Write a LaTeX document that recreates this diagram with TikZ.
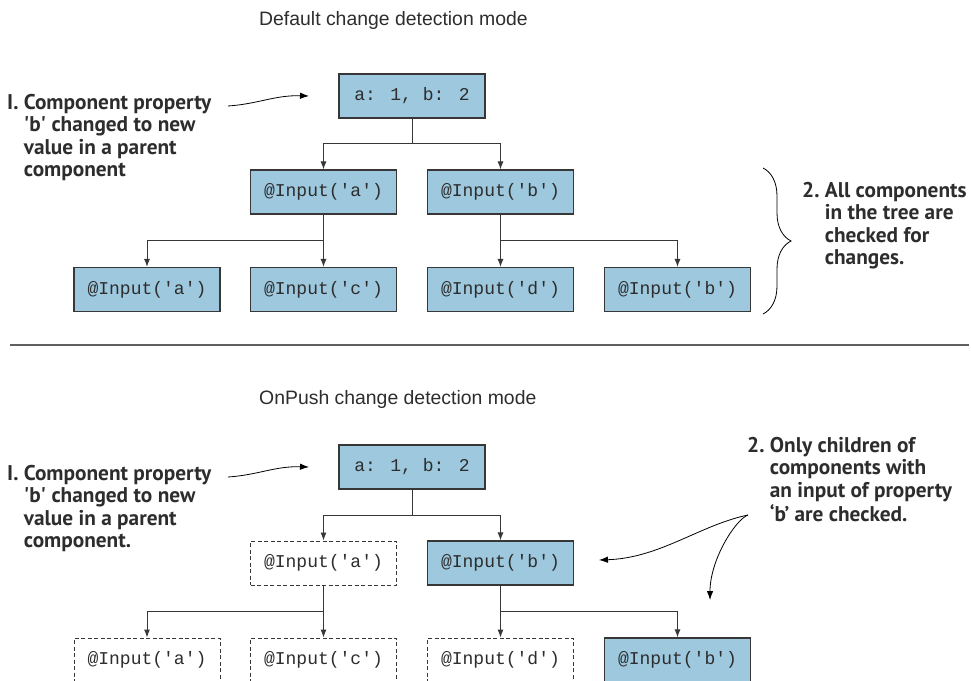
\documentclass[tikz,border=0pt]{standalone}
\usepackage{fontspec}
\setmainfont{Liberation Sans}
\newfontfamily\annfont{PT Sans}
\newfontfamily\codefont{Liberation Mono}
\usetikzlibrary{arrows.meta, decorations.pathreplacing}
\definecolor{boxblue}{RGB}{157,200,222}
\definecolor{edgegray}{RGB}{55,55,55}
\definecolor{txtgray}{RGB}{45,45,45}
\newcommand{\q}{\textquotesingle}
\begin{document}
\begin{tikzpicture}[x=1pt,y=-1pt,
  comp/.style={draw=edgegray, line width=1.1pt, fill=boxblue, minimum width=146pt, minimum height=44pt, inner sep=0pt, text=txtgray, font=\codefont\fontsize{18}{20}\selectfont},
  skipbox/.style={comp, fill=white, line width=0.9pt, dash pattern=on 4pt off 2.5pt},
  conn/.style={draw=edgegray, line width=1pt, -{Latex[length=8pt,width=6pt]}},
  trunk/.style={draw=edgegray, line width=1pt},
  callout/.style={draw=black, line width=0.8pt, -{Latex[length=9pt,width=6.5pt]}},
  ann/.style={font=\annfont\bfseries\fontsize{21.3}{22.6}\selectfont, text=txtgray, anchor=base west, inner sep=0pt},
  ttl/.style={font=\fontsize{19.4}{22}\selectfont, text=txtgray, anchor=west, inner sep=0pt}
]
\useasboundingbox (0,0) rectangle (971,680);

% ---------- top: default ----------
\node[ttl] (t1) at (259,20) {Default change detection mode};

\node[comp] (r1) at (412,96) {a: 1, b: 2};
\node[comp] (a1) at (323.5,192) {@Input(\q a\q)};
\node[comp] (b1) at (500.5,192) {@Input(\q b\q)};
\node[comp] (aa1) at (147,289.5) {@Input(\q a\q)};
\node[comp] (ac1) at (323.5,289.5) {@Input(\q c\q)};
\node[comp] (bd1) at (500.5,289.5) {@Input(\q d\q)};
\node[comp] (bb1) at (677.5,289.5) {@Input(\q b\q)};

\coordinate (j1) at (412,143);
\coordinate (j2) at (323.5,240);
\coordinate (j3) at (500.5,240);
\draw[trunk] (r1.south) -- (j1);
\draw[conn] (j1) -| (a1.north);
\draw[conn] (j1) -| (b1.north);
\draw[trunk] (a1.south) -- (j2);
\draw[conn] (j2) -| (aa1.north);
\draw[conn] (j2) -- (ac1.north);
\draw[trunk] (b1.south) -- (j3);
\draw[conn] (j3) -- (bd1.north);
\draw[conn] (j3) -| (bb1.north);

\node[ann] (n1) at (7,109) {\begin{tabular}[t]{@{}l@{\ }l@{}}I. & Component property\\ & \q b\q\ changed to new\\ & value in a parent\\ & component\end{tabular}};
\coordinate (c1s) at (228,106);
\coordinate (c1e) at (309,96);
\draw[callout] (c1s) .. controls (258,104) and (275,95) .. (c1e);

\coordinate (br1) at (763,168);
\coordinate (br2) at (763,314);
\draw[black, line width=0.8pt, decorate, decoration={brace, amplitude=28pt, aspect=0.5}] (br1) -- (br2);
\node[ann] (n2) at (802,197) {\begin{tabular}[t]{@{}l@{\ }l@{}}2. & All components\\ & in the tree are\\ & checked for\\ & changes.\end{tabular}};

% ---------- divider ----------
\coordinate (dl) at (10,345);
\coordinate (dr) at (969,345);
\draw[gray!75!black, line width=1.4pt] (dl) -- (dr);

% ---------- bottom: OnPush ----------
\node[ttl] (t2) at (259,399) {OnPush change detection mode};

\node[comp] (r2) at (412,467) {a: 1, b: 2};
\node[skipbox] (a2) at (323.5,563) {@Input(\q a\q)};
\node[comp] (b2) at (500.5,563) {@Input(\q b\q)};
\node[skipbox] (aa2) at (147,660) {@Input(\q a\q)};
\node[skipbox] (ac2) at (323.5,660) {@Input(\q c\q)};
\node[skipbox] (bd2) at (500.5,660) {@Input(\q d\q)};
\node[comp] (bb2) at (677.5,660) {@Input(\q b\q)};

\coordinate (k1) at (412,515);
\coordinate (k2) at (323.5,611);
\coordinate (k3) at (500.5,611);
\draw[trunk] (r2.south) -- (k1);
\draw[conn] (k1) -| (a2.north);
\draw[conn] (k1) -| (b2.north);
\draw[trunk] (a2.south) -- (k2);
\draw[conn] (k2) -| (aa2.north);
\draw[conn] (k2) -- (ac2.north);
\draw[trunk] (b2.south) -- (k3);
\draw[conn] (k3) -- (bd2.north);
\draw[conn] (k3) -| (bb2.north);

\node[ann] (n3) at (7,480) {\begin{tabular}[t]{@{}l@{\ }l@{}}I. & Component property\\ & \q b\q\ changed to new\\ & value in a parent\\ & component.\end{tabular}};
\coordinate (c2s) at (228,477);
\coordinate (c2e) at (309,467);
\draw[callout] (c2s) .. controls (258,475) and (275,466) .. (c2e);

\node[ann] (n4) at (747,452) {\begin{tabular}[t]{@{}l@{\ }l@{}}2. & Only children of\\ & components with\\ & an input of property\\ & ‘b’ are checked.\end{tabular}};
\coordinate (c3s) at (748,515);
\coordinate (c3e) at (599,560);
\coordinate (c4e) at (710,600);
\draw[callout] (c3s) .. controls (700,525) and (660,558) .. (c3e);
\draw[callout] (c3s) .. controls (735,520) and (710,560) .. (c4e);
\end{tikzpicture}
\end{document}
